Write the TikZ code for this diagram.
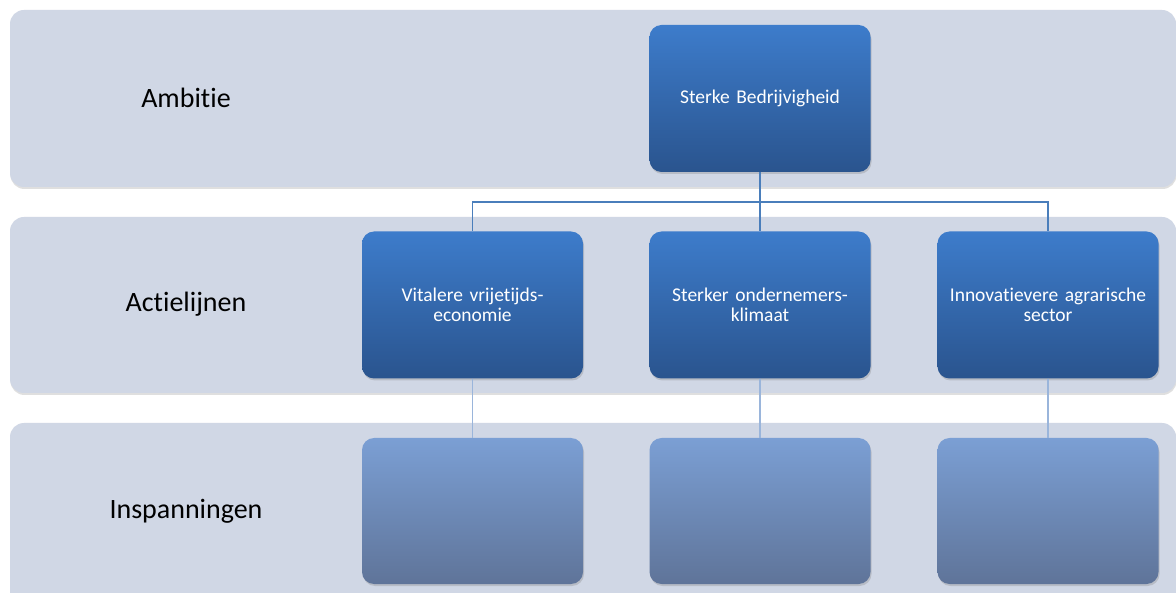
\documentclass[tikz,border=0pt]{standalone}
\usepackage{fontspec}
\setmainfont[Ligatures={NoCommon}]{Carlito}
\usetikzlibrary{shadows}
\definecolor{bandfill}{HTML}{D0D7E5}
\definecolor{darktop}{HTML}{3D7CCB}
\definecolor{darkbot}{HTML}{2A548E}
\definecolor{lighttop}{HTML}{7B9FD4}
\definecolor{lightbot}{HTML}{5F7499}
\definecolor{lineup}{HTML}{4A7EBB}
\definecolor{linelow}{HTML}{9AB5DB}
\tikzset{
  x=1pt, y=-1pt,
  band/.style={fill=bandfill, rounded corners=14pt, drop shadow={opacity=0.25, shadow xshift=0.5pt, shadow yshift=-2pt}},
  bandlabel/.style={font=\fontsize{28}{32}\selectfont, text=black},
  darkbox/.style={rectangle, rounded corners=12pt, minimum width=221pt, minimum height=147pt, top color=darktop, bottom color=darkbot, text=white, align=center, font=\fontsize{19.5}{20}\selectfont, text width=216pt, inner sep=2pt, drop shadow={opacity=0.3, shadow xshift=1pt, shadow yshift=-2pt}},
  lightbox/.style={rectangle, rounded corners=12pt, minimum width=221pt, minimum height=146pt, top color=lighttop, bottom color=lightbot, drop shadow={opacity=0.3, shadow xshift=1pt, shadow yshift=-2pt}},
  connup/.style={draw=lineup, line width=1.3pt},
  connlow/.style={draw=linelow, line width=1.3pt}
}
\begin{document}
\begin{tikzpicture}
\useasboundingbox (0,0) rectangle (1176,593);
\fill[white] (0,0) rectangle (1176,593);
\begin{scope}
\clip (0,0) rectangle (1176,593);
\path[band] (10,10) rectangle (1176,187);
\path[band] (10,217) rectangle (1176,393);
\path[band] (10,423) rectangle (1176,620);
\end{scope}
\node[bandlabel] (l1) at (186,98) {Ambitie};
\node[bandlabel] (l2) at (186,304) {Actielijnen};
\node[bandlabel] (l3) at (186,511) {Inspanningen};
\coordinate (j) at (760,202);
\node[darkbox] (top) at (760,98.5) {Sterke Bedrijvigheid};
\node[darkbox] (a1) at (472.5,305) {Vitalere vrijetijds-\\economie};
\node[darkbox] (a2) at (760,305) {Sterker ondernemers-\\klimaat};
\node[darkbox] (a3) at (1048,305) {Innovatievere agrarische\\sector};
\node[lightbox] (b1) at (472.5,511) {};
\node[lightbox] (b2) at (760,511) {};
\node[lightbox] (b3) at (1048,511) {};
\draw[connup] (top.south) -- (j);
\draw[connup] (j) -| (a1.north);
\draw[connup] (j) -| (a3.north);
\draw[connup] (j) -- (a2.north);
\draw[connlow] (a1.south) -- (b1.north);
\draw[connlow] (a2.south) -- (b2.north);
\draw[connlow] (a3.south) -- (b3.north);
\end{tikzpicture}
\end{document}
